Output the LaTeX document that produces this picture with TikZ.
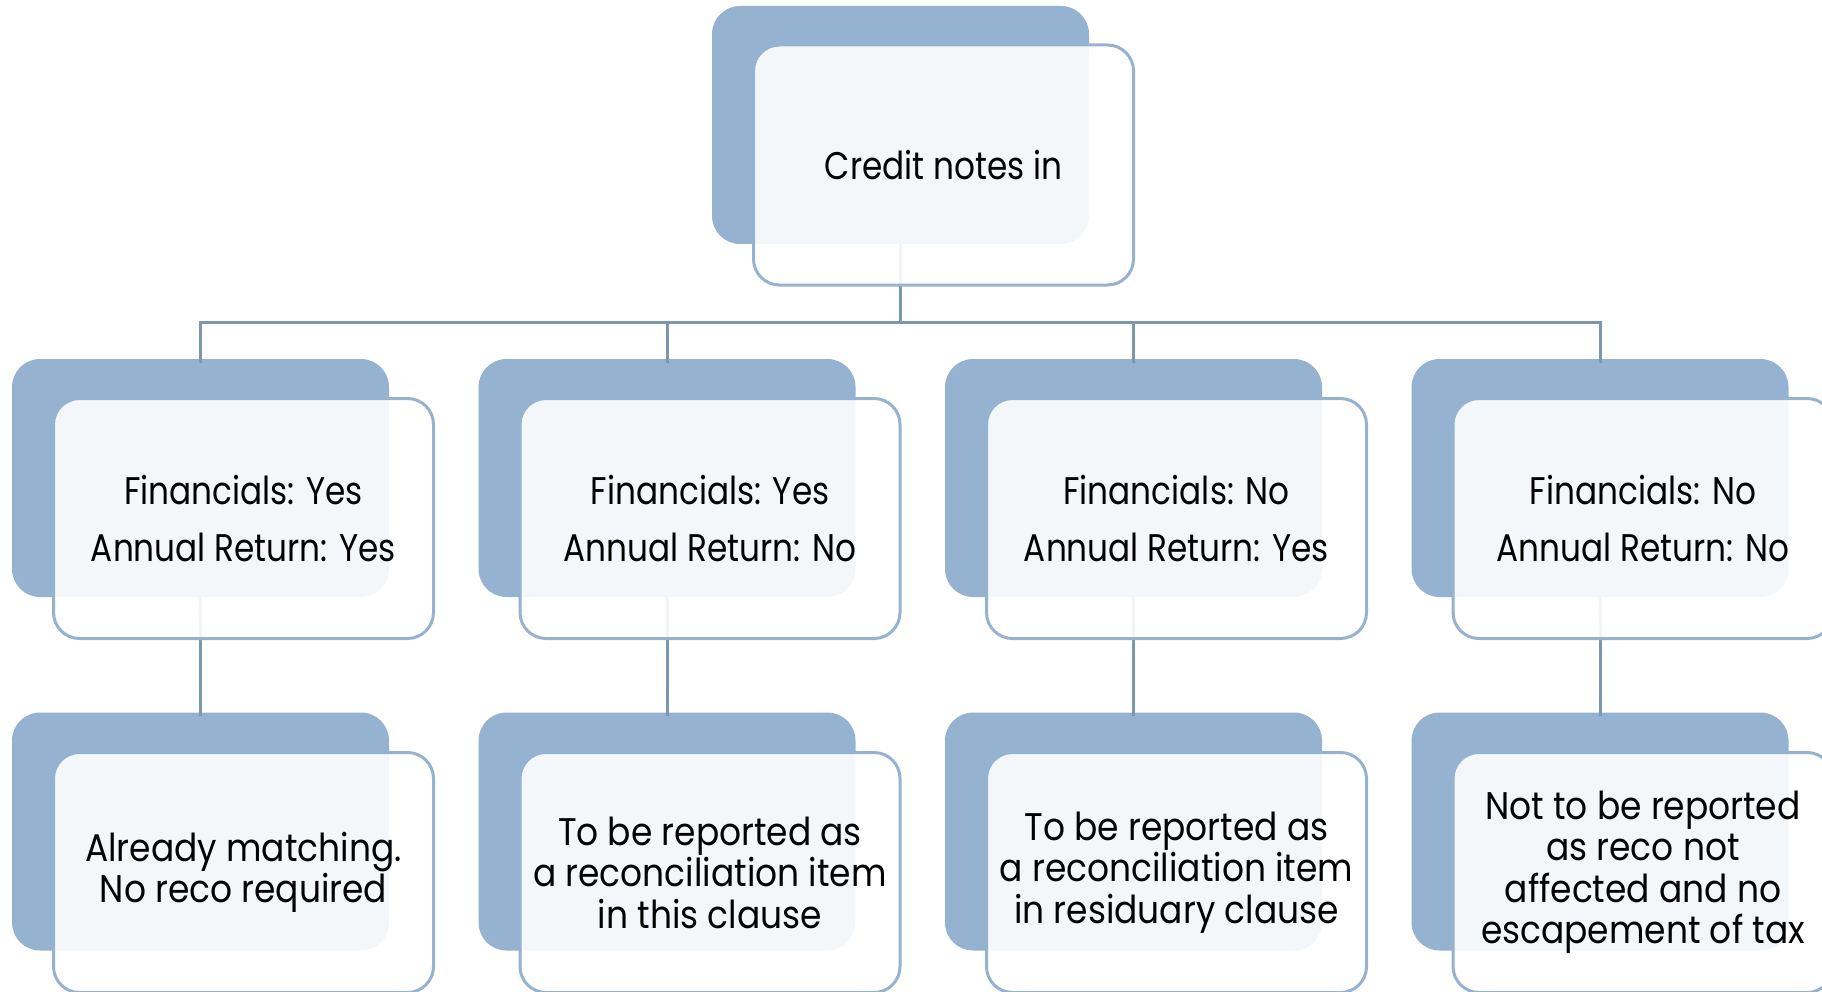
\documentclass[tikz,border=0pt]{standalone}
\usepackage{fontspec}
\setmainfont[FakeStretch=0.85]{Poppins}
\newfontfamily\lthreefont[FakeStretch=0.895]{Poppins}
\definecolor{boxblue}{RGB}{149,179,208}
\definecolor{connblue}{RGB}{124,151,176}
\begin{document}
\begin{tikzpicture}[x=1pt,y=-1pt,
  backbox/.style={draw=none,fill=boxblue,rounded corners=28pt,minimum width=377pt,minimum height=238pt,inner sep=0pt},
  frontbox/.style={draw=boxblue,line width=3pt,fill=white,fill opacity=0.9,text opacity=1,rounded corners=26pt,minimum width=380pt,minimum height=240pt,inner sep=0pt,align=center,text=black},
  lvltwo/.style={font=\fontsize{38.5}{57}\selectfont},
  lvlthree/.style={font=\lthreefont\fontsize{38.5}{41.5}\selectfont},
  conn/.style={draw=connblue,line width=3pt}]
\useasboundingbox (0,0) rectangle (1822,992);
\clip (0,0) rectangle (1822,992);
% back boxes
\node[backbox] (b0) at (900.5,125) {};
\foreach \i/\cx in {1/200.5,2/667,3/1133.5,4/1600}{
  \node[backbox] (b\i) at (\cx,478) {};
  \node[backbox] (c\i) at (\cx,831.5) {};
}
% connectors
\coordinate (h) at (900.5,322);
\foreach \i in {1,2,3,4}{
  \draw[conn] (b0.south) -- (h) -| ([yshift=-4pt]b\i.north);
  \draw[conn] (b\i.south) -- ([yshift=-4pt]c\i.north);
}
% front boxes
\node[frontbox,lvltwo] (f0) at (943.5,165) {Credit notes in};
\node[frontbox,lvltwo] (f1) at (243.5,518.5) {Financials: Yes\\Annual Return: Yes};
\node[frontbox,lvltwo] (f2) at (710,518.5) {Financials: Yes\\Annual Return: No};
\node[frontbox,lvltwo] (f3) at (1176.5,518.5) {Financials: No\\Annual Return: Yes};
\node[frontbox,lvltwo] (f4) at (1643,518.5) {Financials: No\\Annual Return: No};
\node[frontbox,lvlthree] (g1) at (243.5,872.5) {Already matching.\\No reco required};
\node[frontbox,lvlthree] (g2) at (710,872.5) {To be reported as\\a reconciliation item\\in this clause};
\node[frontbox,lvlthree] (g3) at (1176.5,872.5) {To be reported as\\a reconciliation item\\in residuary clause};
\node[frontbox,lvlthree] (g4) at (1643,872.5) {Not to be reported\\as reco not\\affected and no\\escapement of tax};
\end{tikzpicture}
\end{document}
